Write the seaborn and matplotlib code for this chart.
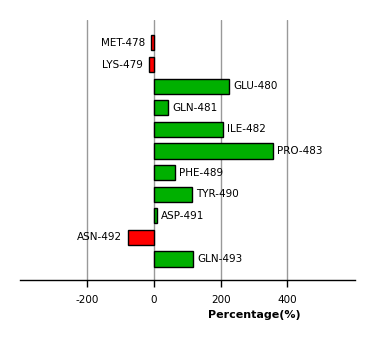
import matplotlib
matplotlib.use("Agg")
import matplotlib.pyplot as plt
import seaborn as sns
import pandas as pd

residues = ["MET-478", "LYS-479", "GLU-480", "GLN-481", "ILE-482", "PRO-483",
            "PHE-489", "TYR-490", "ASP-491", "ASN-492", "GLN-493"]
values = [-8, -14, 226, 43, 208, 358, 64, 113, 10, -77, 118]
xticks = [-200, 0, 200, 400]

df = pd.DataFrame({"residue": residues, "value": values})
df["sign"] = ["neg" if v < 0 else "pos" for v in values]

sns.set_style("white")
plt.rcParams["font.family"] = ["DejaVu Sans"]
plt.rcParams["text.color"] = "black"
plt.rcParams["xtick.color"] = "black"
plt.rcParams["axes.labelcolor"] = "black"

fig = plt.figure(figsize=(3.74, 3.40), dpi=100)
ax = fig.add_axes([20/374, 60/340, 335/374, 260/340])

sns.barplot(data=df, x="value", y="residue", hue="sign", orient="h",
            palette={"pos": "#00b000", "neg": "#ff0000"}, dodge=False,
            saturation=1, edgecolor="black", linewidth=1.0, width=0.7,
            legend=False, ax=ax, order=residues)

ax.set_xlim(-402, 603)
ax.set_ylim(10.97, -1.06)
ax.set_xticks(xticks)
ax.set_xticklabels([str(t) for t in xticks], fontsize=7.5)
ax.tick_params(axis="x", bottom=True, direction="out", length=5, width=1,
               color="black", pad=6, labelcolor="black")
ax.set_yticks([])
ax.set_ylabel("")
ax.set_xlabel("Percentage(%)", fontsize=8, fontweight="bold", color="black")
ax.xaxis.set_label_coords(0.70, -0.115)
for t in xticks:
    ax.axvline(t, color="#999999", linewidth=1, zorder=0)
for s in ["top", "right", "left"]:
    ax.spines[s].set_visible(False)
ax.spines["bottom"].set_linewidth(1)
ax.spines["bottom"].set_color("black")
ax.set_axisbelow(True)

for i, (r, v) in enumerate(zip(residues, values)):
    if v >= 0:
        ax.text(v + 12, i, r, ha="left", va="center", fontsize=7.5, color="black")
    else:
        ax.text(v - 18, i, r, ha="right", va="center", fontsize=7.5, color="black")

fig.savefig("out.png", dpi=100)
